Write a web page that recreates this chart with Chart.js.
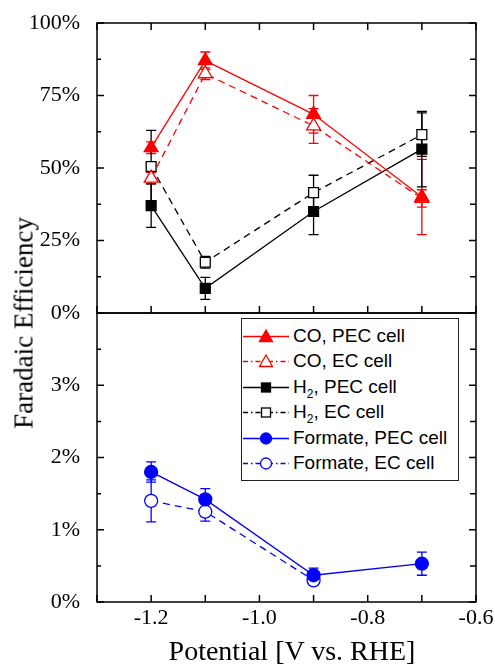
<!DOCTYPE html>
<html>
<head>
<meta charset="utf-8">
<script src="https://cdn.jsdelivr.net/npm/chart.js@4"></script>
<style>
  html, body { margin:0; padding:0; background:#fff; }
  #wrap { position:relative; width:495px; height:664px; overflow:hidden; background:#fff; }
  canvas { position:absolute; left:0; }
  #cTop { top:0; }
  #cBot { top:280px; }
  .ytitle { position:absolute; left:24px; top:323px; transform:translate(-50%,-50%) rotate(-90deg);
    font-family:"Liberation Serif","Times New Roman",serif; font-size:27px; white-space:nowrap; color:#000; }
  .xtitle { position:absolute; left:292px; top:651px; transform:translate(-50%,-50%);
    font-family:"Liberation Serif","Times New Roman",serif; font-size:28px; white-space:nowrap; color:#000; }
  #legend { position:absolute; left:241px; top:318px; width:216px; height:161px; border:1.5px solid #222; background:#fff;
    font-family:"Liberation Sans",Arial,sans-serif; font-size:19px; color:#000; }
  .row { position:absolute; left:0; height:24px; width:216px; }
  .row svg { position:absolute; left:1px; top:2px; }
  .row span { position:absolute; left:51px; top:0px; line-height:22px; white-space:nowrap; }
  sub { font-size:12px; vertical-align:-5px; line-height:0; }
</style>
</head>
<body>
<div id="wrap">
  <canvas id="cTop" width="495" height="345"></canvas>
  <canvas id="cBot" width="495" height="384"></canvas>
  <div class="ytitle">Faradaic Efficiency</div>
  <div class="xtitle">Potential [V vs. RHE]</div>
  <div id="legend"></div>
</div>
<script>
// ---------- data ----------
const potentials = [-1.2, -1.1, -0.9, -0.7];
const coPEC      = [57.0, 87.0, 68.5, 40.0];
const coPECErr   = [2.0, 3.0, 6.5, 13.0];
const coEC       = [46.5, 82.5, 64.5, 39.5];
const coECErr    = [2.0, 2.0, 6.0, 3.0];
const h2PEC      = [37.0, 8.5, 35.0, 56.5];
const h2PECErr   = [7.5, 3.8, 8.0, 13.0];
const h2EC       = [50.5, 17.5, 41.5, 61.5];
const h2ECErr    = [12.5, 2.0, 6.0, 7.5];
const formPEC    = [1.80, 1.42, 0.37, 0.53];
const formPECErr = [0.14, 0.15, 0.10, 0.16];
const formEC     = [1.40, 1.25, 0.30, null];
const formECErr  = [0.29, 0.13, 0.06, null];
const xTickValues   = [-1.3, -1.2, -1.1, -1.0, -0.9, -0.8, -0.7, -0.6];
const topMajorTicks = [0, 25, 50, 75, 100];
const topMinorTicks = [12.5, 37.5, 62.5, 87.5];
const botMajorTicks = [0, 1, 2, 3, 4];
const botMinorTicks = [0.5, 1.5, 2.5, 3.5];

const RED = '#ff0000', BLACK = '#000000', BLUE = '#0000ff';
Chart.defaults.font.family = "'Liberation Serif', 'Times New Roman', serif";
Chart.defaults.color = '#000';
const TICKFONT = { family: "'Liberation Serif', 'Times New Roman', serif", size: 22, style: 'normal', weight: 'normal' };

function pts(vals) { return potentials.map((x, i) => ({ x: x, y: vals[i] })); }

function ds(label, vals, errs, color, style, filled, dashed, r) {
  return {
    label, data: pts(vals), errs,
    borderColor: color, backgroundColor: color,
    borderWidth: 1.3, borderDash: dashed ? [7, 5] : [],
    pointStyle: style, pointRadius: r, pointHoverRadius: r,
    pointBorderColor: color, pointBorderWidth: 1.3,
    pointBackgroundColor: filled ? color : '#ffffff',
    spanGaps: false, tension: 0
  };
}

const framePlugin = {
  id: 'frame',
  beforeDatasetsDraw(chart, args, opts) {
    const ctx = chart.ctx, xs = chart.scales.x, ys = chart.scales.y;
    ctx.save();
    chart.data.datasets.forEach((d) => {
      if (!d.errs) return;
      ctx.strokeStyle = d.borderColor; ctx.lineWidth = 1.3; ctx.setLineDash([]);
      d.data.forEach((p, i) => {
        const e = d.errs[i];
        if (p.y == null || e == null) return;
        const x = xs.getPixelForValue(p.x);
        const y1 = ys.getPixelForValue(p.y + e), y2 = ys.getPixelForValue(p.y - e);
        ctx.beginPath();
        ctx.moveTo(x, y1); ctx.lineTo(x, y2);
        ctx.moveTo(x - 5, y1); ctx.lineTo(x + 5, y1);
        ctx.moveTo(x - 5, y2); ctx.lineTo(x + 5, y2);
        ctx.stroke();
      });
    });
    ctx.restore();
  },
  afterDraw(chart, args, opts) {
    const ctx = chart.ctx, a = chart.chartArea, xs = chart.scales.x, ys = chart.scales.y;
    ctx.save();
    ctx.strokeStyle = '#000'; ctx.lineWidth = 1.5; ctx.setLineDash([]);
    ctx.strokeRect(a.left, a.top, a.right - a.left, a.bottom - a.top);
    ctx.beginPath();
    xTickValues.forEach(v => {
      const x = xs.getPixelForValue(v);
      if (opts.xBottom) { ctx.moveTo(x, a.bottom); ctx.lineTo(x, a.bottom - 7); }
      if (opts.xTop) { ctx.moveTo(x, a.top); ctx.lineTo(x, a.top + 7); }
    });
    opts.major.forEach(v => {
      const y = ys.getPixelForValue(v);
      ctx.moveTo(a.left, y); ctx.lineTo(a.left + 7, y);
      ctx.moveTo(a.right, y); ctx.lineTo(a.right - 7, y);
    });
    opts.minor.forEach(v => {
      const y = ys.getPixelForValue(v);
      ctx.moveTo(a.left, y); ctx.lineTo(a.left + 4, y);
      ctx.moveTo(a.right, y); ctx.lineTo(a.right - 6, y);
    });
    ctx.stroke();
    ctx.restore();
  }
};

const xBase = { type: 'linear', min: -1.3, max: -0.6 };

new Chart(document.getElementById('cTop'), {
  type: 'line',
  data: { datasets: [
    ds('CO, PEC cell', coPEC, coPECErr, RED, 'triangle', true, false, 8),
    ds('CO, EC cell', coEC, coECErr, RED, 'triangle', false, true, 8),
    ds('H2, PEC cell', h2PEC, h2PECErr, BLACK, 'rect', true, false, 7),
    ds('H2, EC cell', h2EC, h2ECErr, BLACK, 'rect', false, true, 7)
  ]},
  options: {
    responsive: false, animation: false, events: [],
    layout: { padding: { top: 23, right: 19, bottom: 32, left: 0 } },
    plugins: { legend: { display: false }, tooltip: { enabled: false },
      frame: { xTop: true, xBottom: true, major: topMajorTicks, minor: topMinorTicks } },
    scales: {
      x: Object.assign({}, xBase, { display: false }),
      y: { type: 'linear', min: 0, max: 100,
        grid: { display: false }, border: { display: false },
        ticks: { stepSize: 25, padding: 9, color: '#000', font: TICKFONT,
          callback: v => v + '%' },
        afterFit: s => { s.width = 97; } }
    }
  },
  plugins: [framePlugin]
});

new Chart(document.getElementById('cBot'), {
  type: 'line',
  data: { datasets: [
    ds('Formate, PEC cell', formPEC, formPECErr, BLUE, 'circle', true, false, 6.5),
    ds('Formate, EC cell', formEC, formECErr, BLUE, 'circle', false, true, 6.5)
  ]},
  options: {
    responsive: false, animation: false, events: [],
    layout: { padding: { top: 33, right: 19, bottom: 0, left: 0 } },
    plugins: { legend: { display: false }, tooltip: { enabled: false },
      frame: { xTop: false, xBottom: true, major: botMajorTicks, minor: botMinorTicks } },
    scales: {
      x: Object.assign({}, xBase, {
        grid: { display: false }, border: { display: false },
        ticks: { stepSize: 0.1, autoSkip: false, maxRotation: 0, padding: -5, color: '#000', font: TICKFONT,
          callback: v => { const k = Math.round(v * 10); return (k % 2 === 0) ? (k / 10).toFixed(1) : ''; } },
        afterFit: s => { s.height = 62; } }),
      y: { type: 'linear', min: 0, max: 4,
        grid: { display: false }, border: { display: false },
        ticks: { stepSize: 1, padding: 9, color: '#000', font: TICKFONT,
          callback: v => (v >= 4 ? '' : v + '%') },
        afterFit: s => { s.width = 97; } }
    }
  },
  plugins: [framePlugin]
});

// ---------- legend (HTML) ----------
const legendItems = [
  { html: 'CO, PEC cell', color: RED, m: 'tri', filled: true, dash: false },
  { html: 'CO, EC cell', color: RED, m: 'tri', filled: false, dash: true },
  { html: 'H<sub>2</sub>, PEC cell', color: BLACK, m: 'sq', filled: true, dash: false },
  { html: 'H<sub>2</sub>, EC cell', color: BLACK, m: 'sq', filled: false, dash: true },
  { html: 'Formate, PEC cell', color: BLUE, m: 'ci', filled: true, dash: false },
  { html: 'Formate, EC cell', color: BLUE, m: 'ci', filled: false, dash: true }
];
const leg = document.getElementById('legend');
legendItems.forEach((it, i) => {
  const row = document.createElement('div');
  row.className = 'row';
  row.style.top = (6 + i * 25.4) + 'px';
  const fill = it.filled ? it.color : '#fff';
  let marker = '';
  if (it.m === 'tri') marker = `<polygon points="23,3 29.5,14.5 16.5,14.5" fill="${fill}" stroke="${it.color}" stroke-width="1.3"/>`;
  if (it.m === 'sq') marker = `<rect x="18.5" y="5" width="9" height="9" fill="${fill}" stroke="${it.color}" stroke-width="1.3"/>`;
  if (it.m === 'ci') marker = `<circle cx="23" cy="9.5" r="5.5" fill="${fill}" stroke="${it.color}" stroke-width="1.3"/>`;
  const dash = it.dash ? 'stroke-dasharray="5,3,1.5,3"' : '';
  row.innerHTML = `<svg width="46" height="20"><line x1="0" y1="9.5" x2="46" y2="9.5" stroke="${it.color}" stroke-width="1.3" ${dash}/>${marker}</svg><span>${it.html}</span>`;
  leg.appendChild(row);
});
</script>
</body>
</html>
